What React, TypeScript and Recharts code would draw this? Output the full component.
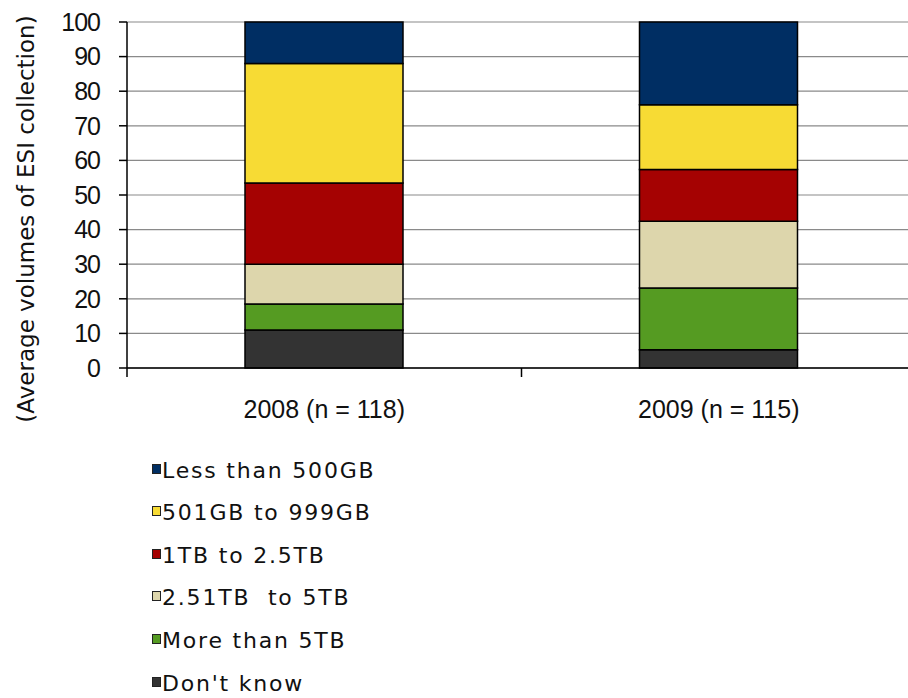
import { Bar, BarChart, CartesianGrid, Label, XAxis, YAxis } from "recharts";

// Survey years, bottom-to-top stack segments (percent of respondents)
const years = ["2008 (n = 118)", "2009 (n = 115)"];

const dontKnow = [11, 5.3];
const moreThan5TB = [7.5, 17.8];
const from251To5TB = [11.5, 19.3];
const from1To25TB = [23.5, 15];
const from501To999GB = [34.5, 18.7];
const lessThan500GB = [12, 23.9];

const yTicks = [0, 10, 20, 30, 40, 50, 60, 70, 80, 90, 100];

// stack order bottom -> top
const series = [
  { key: "dk", name: "Don't know", color: "#333333", values: dontKnow },
  { key: "gt5", name: "More than 5TB", color: "#559B22", values: moreThan5TB },
  { key: "t251", name: "2.51TB  to 5TB", color: "#DDD6AC", values: from251To5TB },
  { key: "t1", name: "1TB to 2.5TB", color: "#A50202", values: from1To25TB },
  { key: "g501", name: "501GB to 999GB", color: "#F7DB34", values: from501To999GB },
  { key: "lt500", name: "Less than 500GB", color: "#002E63", values: lessThan500GB },
];

const data = years.map((year, i) => {
  const row: Record<string, string | number> = { year };
  series.forEach((s) => {
    row[s.key] = s.values[i];
  });
  return row;
});

const tickFont = "'Liberation Sans', Arial, sans-serif";
const labelFont = "'DejaVu Sans', Verdana, sans-serif";

// category label plus an Excel-style tick mark on the left edge of each band
function YearTick(props: any) {
  const { x, y, payload } = props;
  const half = payload?.offset ?? 0;
  return (
    <g>
      <line x1={x - half} x2={x - half} y1={y} y2={y + 9} stroke="#000" strokeWidth={1.5} />
      <text
        x={x}
        y={y + 50}
        textAnchor="middle"
        fill="#111"
        style={{ fontFamily: tickFont, fontSize: 25 }}
      >
        {payload.value}
      </text>
    </g>
  );
}

export default function App() {
  return (
    <div
      style={{
        position: "absolute",
        left: 0,
        top: 0,
        width: 908,
        height: 698,
        overflow: "hidden",
        background: "#fff",
      }}
    >
      <BarChart
        width={916}
        height={440}
        data={data}
        margin={{ top: 22, right: 0, bottom: 12, left: 0 }}
        barSize={158}
      >
        <CartesianGrid vertical={false} stroke="#8a8a8a" strokeWidth={1.2} />
        <XAxis
          dataKey="year"
          height={60}
          tickLine={false}
          tickSize={0}
          tickMargin={0}
          axisLine={{ stroke: "#000", strokeWidth: 1.5 }}
          tick={<YearTick />}
          interval={0}
        />
        <YAxis
          width={127}
          domain={[0, 100]}
          ticks={yTicks}
          interval={0}
          tickSize={8}
          tickMargin={19}
          axisLine={{ stroke: "#000", strokeWidth: 1.5 }}
          tickLine={{ stroke: "#000", strokeWidth: 1.5 }}
          tick={{ fill: "#111", fontSize: 25, fontFamily: tickFont, letterSpacing: -1 }}
        >
          <Label
            content={() => (
              <text
                x={34}
                y={219}
                transform="rotate(-90 34 219)"
                textAnchor="middle"
                fill="#111"
                style={{ fontFamily: labelFont, fontSize: 23 }}
              >
                (Average volumes of ESI collection)
              </text>
            )}
          />
        </YAxis>
        {series.map((s) => (
          <Bar
            key={s.key}
            dataKey={s.key}
            name={s.name}
            stackId="vol"
            fill={s.color}
            stroke="#000"
            strokeWidth={1.5}
            isAnimationActive={false}
          />
        ))}
      </BarChart>

      {/* legend, top entry is the top of the stack */}
      <div style={{ position: "absolute", left: 152, top: 449 }}>
        {[...series].reverse().map((s, i) => (
          <div
            key={s.key}
            style={{
              position: "absolute",
              top: i * 42.6,
              left: 0,
              height: 42,
              display: "flex",
              alignItems: "center",
              whiteSpace: "pre",
            }}
          >
            <span
              style={{
                width: 7,
                height: 8,
                background: s.color,
                border: "1px solid #222",
                marginRight: 1,
                marginTop: -3,
              }}
            />
            <span
              style={{
                fontFamily: labelFont,
                fontSize: 22,
                letterSpacing: 1.8,
                color: "#111",
              }}
            >
              {s.name}
            </span>
          </div>
        ))}
      </div>
    </div>
  );
}
